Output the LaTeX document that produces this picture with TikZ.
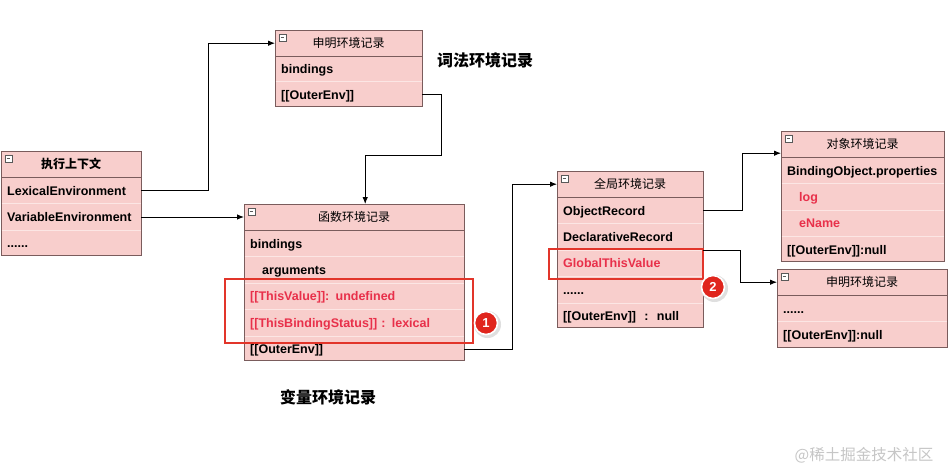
\documentclass[tikz,border=0pt]{standalone}
\usepackage{fontspec}
\setmainfont{Liberation Sans}
\newfontfamily\cjk{Noto Sans CJK SC}
\usetikzlibrary{arrows.meta}
\definecolor{pinkf}{HTML}{F8CECC}
\definecolor{bord}{HTML}{7A5C5C}
\definecolor{sepc}{HTML}{FCE6E4}
\definecolor{redt}{HTML}{E8304A}
\definecolor{redbox}{HTML}{E2352A}
\definecolor{badgec}{HTML}{E0261E}
\begin{document}
\begin{tikzpicture}[x=1pt,y=-1pt,
  recbox/.style={draw=bord, fill=pinkf, line width=0.8pt, anchor=north west, inner sep=0pt},
  hdr/.style={anchor=north west, inner sep=0pt, minimum height=26pt, minimum width=#1pt, text height=10.5pt, text depth=2pt, font=\cjk\fontsize{12}{14}\selectfont},
  row/.style={anchor=north west, inner xsep=6pt, inner ysep=0pt, minimum height=26pt, text width=#1pt, text height=11pt, text depth=2pt, align=left, font=\bfseries\fontsize{12.5}{14}\selectfont},
  redrow/.style={text=redt},
  hline/.style={draw=bord, line width=0.8pt},
  sepline/.style={draw=sepc, line width=0.8pt, shorten <=0.5pt, shorten >=0.5pt},
  minus/.style={draw=gray!70!black, fill=white, minimum size=7pt, inner sep=0pt, line width=0.5pt,
    path picture={\draw[line width=0.7pt] ([xshift=1.6pt]path picture bounding box.west) -- ([xshift=-1.6pt]path picture bounding box.east);}},
  arr/.style={draw=black, line width=0.9pt, -{Latex[length=7pt,width=5.5pt]}},
  redrect/.style={draw=redbox, line width=1.8pt, anchor=north west, inner sep=0pt},
  badge/.style={circle, fill=badgec, draw=white, line width=1.6pt, minimum size=23pt, inner sep=0pt, text=white, font=\bfseries\fontsize{13}{14}\selectfont},
  badgeshadow/.style={circle, fill=gray!25, minimum size=27pt, inner sep=0pt},
  lbl/.style={font=\cjk\bfseries\fontsize{16}{18}\selectfont},
  wm/.style={text=gray!45, font=\cjk\fontsize{15.5}{18}\selectfont}
]
\fill[white] (0,0) rectangle (951,471);
\useasboundingbox (0,0) rectangle (951,471);

% ---------- execution context ----------
\node[recbox, minimum width=140pt, minimum height=104pt] (ec) at (1,151) {};
\node[hdr=140, font=\cjk\bfseries\fontsize{12}{14}\selectfont] (ec-h) at (ec.north west) {执行上下文};
\draw[hline] (ec-h.south west) -- (ec-h.south east);
\node[minus] (ec-m) at ([xshift=7.5pt,yshift=-7.5pt]ec.north west) {};
\node[row=128] (ec-lex) at (ec-h.south west) {LexicalEnvironment};
\node[row=128] (ec-var) at (ec-lex.south west) {VariableEnvironment};
\node[row=128] (ec-etc) at (ec-var.south west) {......};
\draw[sepline] (ec-lex.south west) -- (ec-lex.south east);
\draw[sepline] (ec-var.south west) -- (ec-var.south east);

% ---------- declarative record (lexical) ----------
\node[recbox, minimum width=147pt, minimum height=76pt] (d1) at (275,30) {};
\node[hdr=147] (d1-h) at (d1.north west) {申明环境记录};
\draw[hline] (d1-h.south west) -- (d1-h.south east);
\node[minus] (d1-m) at ([xshift=7.5pt,yshift=-7.5pt]d1.north west) {};
\node[row=135, minimum height=25pt] (d1-b) at (d1-h.south west) {bindings};
\node[row=135, minimum height=25pt] (d1-o) at (d1-b.south west) {[[OuterEnv]]};
\draw[sepline] (d1-b.south west) -- (d1-b.south east);

% ---------- function record ----------
\node[recbox, minimum width=220pt, minimum height=156pt] (fn) at (244,204) {};
\node[hdr=220] (fn-h) at (fn.north west) {函数环境记录};
\draw[hline] (fn-h.south west) -- (fn-h.south east);
\node[minus] (fn-m) at ([xshift=7.5pt,yshift=-7.5pt]fn.north west) {};
\node[row=208] (fn-b) at (fn-h.south west) {bindings};
\node[row=208] (fn-a) at (fn-b.south west) {\hspace*{12pt}arguments};
\node[row=208, redrow] (fn-tv) at (fn-a.south west) {[[ThisValue]]: undefined};
\node[row=208, redrow] (fn-ts) at (fn-tv.south west) {[[ThisBindingStatus]] : lexical};
\node[row=208] (fn-o) at (fn-ts.south west) {[[OuterEnv]]};
\foreach \r in {fn-b,fn-a,fn-tv,fn-ts} \draw[sepline] (\r.south west) -- (\r.south east);

% ---------- global record ----------
\node[recbox, minimum width=146pt, minimum height=156pt] (gl) at (557,171) {};
\node[hdr=146] (gl-h) at (gl.north west) {全局环境记录};
\draw[hline] (gl-h.south west) -- (gl-h.south east);
\node[minus] (gl-m) at ([xshift=7.5pt,yshift=-7.5pt]gl.north west) {};
\node[row=134] (gl-obj) at (gl-h.south west) {ObjectRecord};
\node[row=134] (gl-dec) at (gl-obj.south west) {DeclarativeRecord};
\node[row=134, redrow] (gl-gtv) at (gl-dec.south west) {GlobalThisValue};
\node[row=134] (gl-etc) at (gl-gtv.south west) {......};
\node[row=134] (gl-o) at (gl-etc.south west) {[[OuterEnv]]\ \ :\ \ null};
\foreach \r in {gl-obj,gl-dec,gl-gtv,gl-etc} \draw[sepline] (\r.south west) -- (\r.south east);

% ---------- object record ----------
\node[recbox, minimum width=163pt, minimum height=130pt] (ob) at (781,131) {};
\node[hdr=163] (ob-h) at (ob.north west) {对象环境记录};
\draw[hline] (ob-h.south west) -- (ob-h.south east);
\node[minus] (ob-m) at ([xshift=7.5pt,yshift=-7.5pt]ob.north west) {};
\node[row=151] (ob-bo) at (ob-h.south west) {BindingObject.properties};
\node[row=151, redrow] (ob-log) at (ob-bo.south west) {\hspace*{12pt}log};
\node[row=151, redrow] (ob-en) at (ob-log.south west) {\hspace*{12pt}eName};
\node[row=151] (ob-o) at (ob-en.south west) {[[OuterEnv]]:null};
\foreach \r in {ob-bo,ob-log,ob-en} \draw[sepline] (\r.south west) -- (\r.south east);

% ---------- declarative record (global) ----------
\node[recbox, minimum width=170pt, minimum height=78pt] (d2) at (777,269) {};
\node[hdr=170] (d2-h) at (d2.north west) {申明环境记录};
\draw[hline] (d2-h.south west) -- (d2-h.south east);
\node[minus] (d2-m) at ([xshift=7.5pt,yshift=-7.5pt]d2.north west) {};
\node[row=158] (d2-etc) at (d2-h.south west) {......};
\node[row=158] (d2-o) at (d2-etc.south west) {[[OuterEnv]]:null};
\draw[sepline] (d2-etc.south west) -- (d2-etc.south east);

% ---------- highlights ----------
\node[redrect, minimum width=248pt, minimum height=64pt] (hl1) at (224,278) {};
\node[redrect, minimum width=154pt, minimum height=30pt] (hl2) at (548,248) {};
\node[badgeshadow] (b1s) at (487.5,324.5) {};
\node[badgeshadow] (b2s) at (714.5,288.5) {};
\node[badge] (b1) at (486,323) {1};
\node[badge] (b2) at (713,287) {2};

% ---------- connectors ----------
\draw[arr] (ec-lex.east) -- ++(67,0) |- (d1-h.west);
\draw[arr] (ec-var.east) -- (ec-var.east -| fn-h.west);
\draw[arr] (d1-o.east) -- ++(19,0) -- ++(0,61) -| ([xshift=11pt]fn-h.north);
\draw[arr] (fn-o.east) -- ++(48,0) |- (gl-h.west);
\draw[arr] (gl-obj.east) -- ++(39,0) |- ([yshift=-9pt]ob-h.west);
\draw[arr] (gl-gtv.north east) -- ++(37,0) |- (d2-h.west);

% ---------- labels ----------
\node[lbl] (lex-lbl) at (485,60) {词法环境记录};
\node[lbl] (var-lbl) at (328,397) {变量环境记录};
\node[wm] (wm) at (864,455) {@稀土掘金技术社区};
\end{tikzpicture}
\end{document}
